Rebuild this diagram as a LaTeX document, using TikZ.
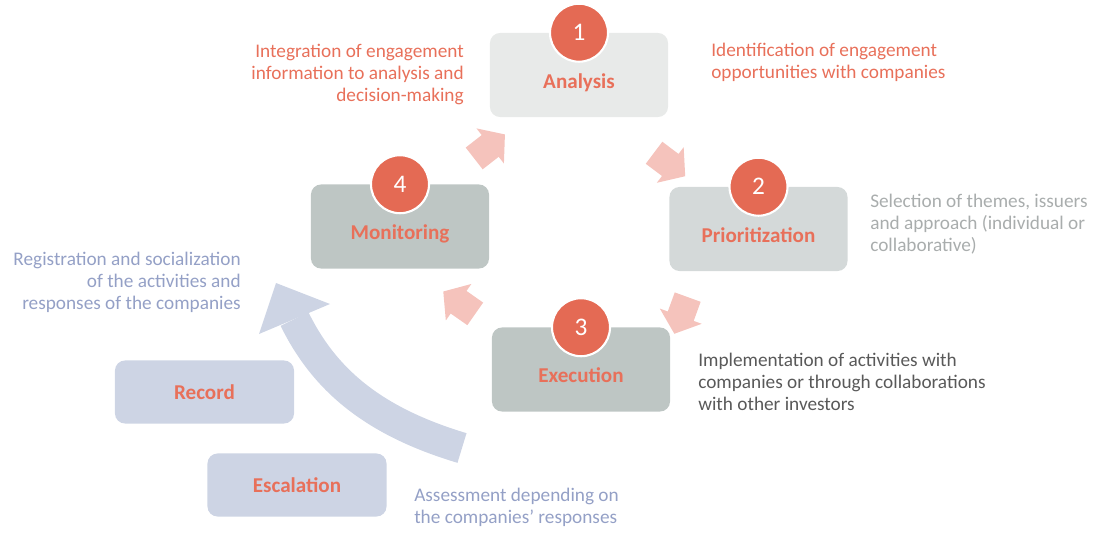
\documentclass[tikz,border=0pt]{standalone}
\usepackage{fontspec}
\setmainfont{Carlito}
\usetikzlibrary{shapes.arrows}

\definecolor{salmon}{HTML}{E8705A}
\definecolor{numred}{HTML}{E46A54}
\definecolor{pinkarr}{HTML}{F5C3BC}
\definecolor{paleGrey}{HTML}{E8EAE9}
\definecolor{midGrey}{HTML}{D4D9D9}
\definecolor{darkGrey}{HTML}{BEC6C4}
\definecolor{paleBlue}{HTML}{CDD4E4}
\definecolor{blueText}{HTML}{94A0C6}
\definecolor{greyText}{HTML}{A9ADAD}
\definecolor{darkText}{HTML}{595959}

\tikzset{
	stagebox/.style={rectangle, rounded corners=0.25cm, minimum width=4.45cm, minimum height=2.1cm, inner sep=0pt},
	stagelabel/.style={text=salmon, font=\fontsize{15}{18}\selectfont\bfseries, yshift=-0.2cm, text height=0.35cm, text depth=0.1cm, inner sep=0pt},
	sidebox/.style={rectangle, rounded corners=0.25cm, minimum width=4.475cm, minimum height=1.575cm, fill=paleBlue, text=salmon, font=\fontsize{15}{18}\selectfont\bfseries},
	numdisc/.style={circle, fill=numred, draw=white, line width=1.5pt, minimum size=1.45cm, inner sep=0pt, text=white, font=\fontsize{18}{20}\selectfont},
	blockarrow/.style={single arrow, fill=pinkarr, minimum height=0.975cm, inner xsep=0pt, inner ysep=0.3375cm, single arrow head extend=0.2125cm, single arrow tip angle=100},
	desc/.style={inner sep=0pt, font=\fontsize{13.7}{15.65}\selectfont}
}

\begin{document}
\begin{tikzpicture}[x=0.025cm, y=-0.025cm]
		\useasboundingbox (0,0) rectangle (1094,533);
		
		% big return arrow
		\coordinate (BigTail) at (462,448);
		\coordinate (BigNeck) at (294.5,319);
		\draw[paleBlue, line width=0.775cm] (BigTail) .. controls (372,421) and (324,379) .. (BigNeck);
		\fill[paleBlue] (276,283) -- (259,334) -- (330,304) -- cycle;
		
		\node[stagebox, fill=paleGrey, label={[stagelabel]center:Analysis}] (Analysis) at (579,75) {};
		\node[stagebox, fill=midGrey, label={[stagelabel]center:Prioritization}] (Prior) at (758.5,229) {};
		\node[stagebox, fill=darkGrey, label={[stagelabel]center:Execution}] (Exec) at (581,369.5) {};
		\node[stagebox, fill=darkGrey, label={[stagelabel]center:Monitoring}] (Monit) at (400,226.5) {};
		\node[sidebox] (Record) at (204.5,392) {Record};
		\node[sidebox] (Escal) at (297,485) {Escalation};
		
		\node[numdisc] (N1) at (Analysis.north) {1};
		\node[numdisc] (N2) at (Prior.north) {2};
		\node[numdisc] (N3) at (Exec.north) {3};
		\node[numdisc] (N4) at (Monit.north) {4};
		
		\node[blockarrow, rotate=38] (A41) at (485,150) {};
		\node[blockarrow, rotate=-37] (A12) at (665,161) {};
		\node[blockarrow, rotate=-110] (A23) at (683,310) {};
		\node[blockarrow, rotate=145] (A34) at (464,306) {};
		
		\node[desc, text=salmon, align=right, anchor=north east] (Integ) at (464,44) {Integration of engagement\\information to analysis and\\decision-making};
		\node[desc, text=salmon, align=left, anchor=north west] (Ident) at (711,43) {Identification of engagement\\opportunities with companies};
		\node[desc, text=greyText, align=left, anchor=north west] (Select) at (870,194) {Selection of themes, issuers\\and approach (individual or\\collaborative)};
		\node[desc, text=darkText, align=left, anchor=north west] (Impl) at (698,353) {Implementation of activities with\\companies or through collaborations\\with other investors};
		\node[desc, text=blueText, align=right, anchor=north east] (Regist) at (241,252) {Registration and socialization\\of the activities and\\responses of the companies};
		\node[desc, text=blueText, align=left, anchor=north west] (Assess) at (414,488) {Assessment depending on\\the companies' responses};
	\end{tikzpicture}
\end{document}
